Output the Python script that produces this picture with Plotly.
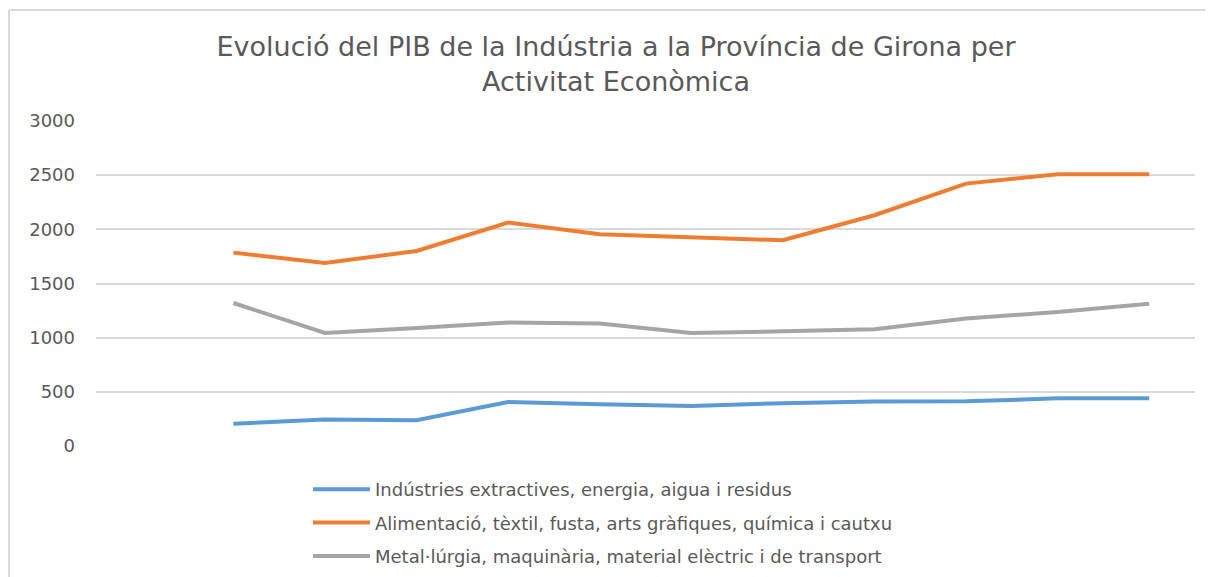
import plotly.graph_objects as go

# Data (x-axis has no visible labels)
periods = list(range(1, 12))  # category slots 1..11 (slot 0 empty in the original)
extractives = [205, 244, 237, 406, 385, 369, 395, 410, 412, 440, 440]
alimentacio = [1785, 1689, 1800, 2062, 1954, 1924, 1899, 2130, 2422, 2508, 2508]
metal = [1320, 1043, 1089, 1139, 1130, 1043, 1059, 1077, 1176, 1237, 1314]

series_names = [
    "Indústries extractives, energia, aigua i residus",
    "Alimentació, tèxtil, fusta, arts gràfiques, química i cautxu",
    "Metal·lúrgia, maquinària, material elèctric i de transport",
]
series_values = [extractives, alimentacio, metal]
series_colors = ["#5B9BD5", "#ED7D31", "#A5A5A5"]

y_ticks = [0, 500, 1000, 1500, 2000, 2500, 3000]

fig = go.Figure()
for i, (name, vals, col) in enumerate(zip(series_names, series_values, series_colors)):
    fig.add_trace(go.Scatter(
        x=periods, y=vals, mode="lines", name=name,
        line=dict(color=col, width=4),
        legendgroup=f"g{i}",
    ))

# The page body has an 8px default margin, so the figure is sized to fit
OFF = 8
W, H = 1213 - OFF, 577 - OFF
L, R, T, B = 96 - OFF, 18, 121 - OFF, 131
pw = W - L - R
ph = H - T - B

def px_to_paper_x(screen_x):
    return (screen_x - OFF - L) / pw

def px_to_paper_y(screen_y):
    return (H - B - (screen_y - OFF)) / ph

fig.update_layout(
    width=W, height=H,
    margin=dict(l=L, r=R, t=T, b=B, autoexpand=False),
    paper_bgcolor="white",
    plot_bgcolor="white",
    title=dict(
        text="Evolució del PIB de la Indústria a la Província de Girona per<br>Activitat Econòmica",
        x=608 / W, xanchor="center", xref="container",
        y=1 - 48 / H, yanchor="middle", yref="container",
        font=dict(family="DejaVu Sans", size=27, color="#595959"),
    ),
    xaxis=dict(
        range=[-0.5, 11.5], showticklabels=False, showgrid=False,
        zeroline=False, showline=False, ticks="",
    ),
    yaxis=dict(
        range=[0, 3000], tickvals=y_ticks, showgrid=True,
        gridcolor="#D9D9D9", gridwidth=1.5, zeroline=False, showline=False,
        tickfont=dict(family="DejaVu Sans", size=18, color="#595959"),
        ticklabelstandoff=20,
    ),
    legend=dict(
        x=px_to_paper_x(308), xanchor="left",
        y=px_to_paper_y(471), yanchor="top",
        font=dict(family="DejaVu Sans", size=18, color="#595959"),
        traceorder="grouped", tracegroupgap=7,
        itemwidth=57, bgcolor="rgba(0,0,0,0)",
    ),
    showlegend=True,
    shapes=[
        dict(type="line", xref="paper", yref="paper",
             x0=px_to_paper_x(9), x1=px_to_paper_x(1213),
             y0=px_to_paper_y(10), y1=px_to_paper_y(10),
             line=dict(color="#D9D9D9", width=2)),
        dict(type="line", xref="paper", yref="paper",
             x0=px_to_paper_x(9), x1=px_to_paper_x(9),
             y0=px_to_paper_y(10), y1=px_to_paper_y(577),
             line=dict(color="#D9D9D9", width=2)),
    ],
)

fig.write_html("out.html")
